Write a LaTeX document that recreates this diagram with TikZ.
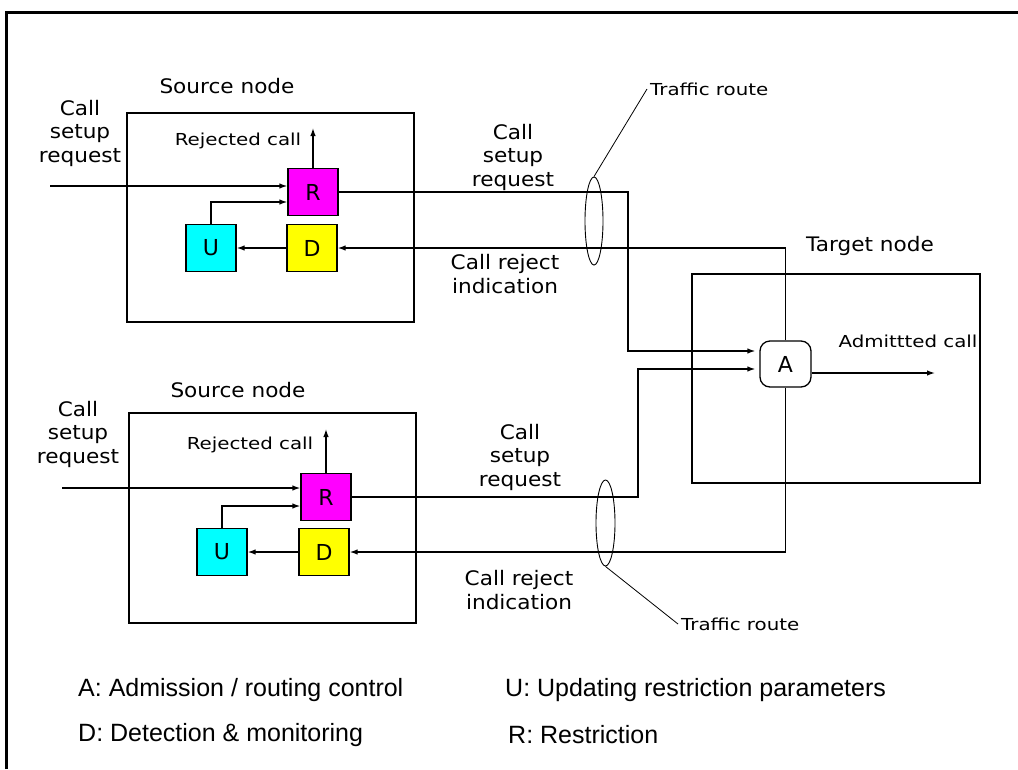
\documentclass[tikz,border=0pt]{standalone}
\usepackage{fontspec}
\setmainfont{DejaVu Sans}
\newfontfamily\legfont{Liberation Sans}
\usetikzlibrary{arrows.meta,shapes.geometric,calc}
\definecolor{rmag}{RGB}{255,0,255}
\definecolor{dyel}{RGB}{255,255,0}
\definecolor{ucya}{RGB}{0,255,255}
\newcommand\bw[1]{\scalebox{1.08}[1]{#1}}
\newcommand\sw[1]{\scalebox{1.2}[1]{#1}}
\begin{document}
\begin{tikzpicture}[x=1pt,y=-1pt,
  lbl/.style={inner sep=0pt, font=\fontsize{20}{23.5}\selectfont, align=center},
  slbl/.style={inner sep=0pt, font=\fontsize{16.5}{20}\selectfont},
  leg/.style={inner sep=0pt, anchor=west, font=\legfont\fontsize{25}{30}\selectfont},
  blk/.style={draw, line width=1.3pt, minimum width=50pt, minimum height=47pt, inner sep=0pt, font=\fontsize{22}{24}\selectfont},
  frame/.style={draw, line width=1.3pt, inner sep=0pt},
  arr/.style={line width=1.3pt, -{Latex[length=8pt,width=5.5pt]}},
  route/.style={draw, ellipse, line width=0.9pt, inner sep=0pt, minimum width=18pt, minimum height=88pt},
  leader/.style={line width=0.8pt}]
\useasboundingbox (0,0) rectangle (1018,769);
% outer frame
\draw[line width=3pt] (6,769) -- (6,12) -- (1018,12);

% node boxes
\node[frame, minimum width=287pt, minimum height=209pt] (S1) at (270.5,217.5) {};
\node[frame, minimum width=287pt, minimum height=210pt] (S2) at (272.5,518) {};
\node[frame, minimum width=288pt, minimum height=209pt] (T) at (836,378.5) {};

\node[lbl] (S1lab) at (227,86) {\bw{Source node}};
\node[lbl] (S2lab) at (238,390) {\bw{Source node}};
\node[lbl] (Tlab) at (870,246) {\bw{Target node}};

% blocks
\node[blk, fill=rmag] (R1) at (313,192) {R};
\node[blk, fill=dyel] (D1) at (312,248) {D};
\node[blk, fill=ucya] (U1) at (211,248) {U};
\node[blk, fill=rmag] (R2) at (326,497) {R};
\node[blk, fill=dyel] (D2) at (324,552) {D};
\node[blk, fill=ucya] (U2) at (222,552) {U};

\node[draw, line width=1.3pt, rounded corners=10pt, minimum width=51pt, minimum height=46pt, inner sep=0pt, font=\fontsize{22}{24}\selectfont] (A) at (785.5,364) {A};

% labels
\node[lbl] (in1lab) at (80,133) {\bw{Call}\\\bw{setup}\\\bw{request}};
\node[lbl] (in2lab) at (78,434) {\bw{Call}\\\bw{setup}\\\bw{request}};
\node[lbl] (cs1lab) at (513,157) {\bw{Call}\\\bw{setup}\\\bw{request}};
\node[lbl] (cs2lab) at (520,457) {\bw{Call}\\\bw{setup}\\\bw{request}};
\node[lbl] (cr1lab) at (505,274) {\bw{Call reject}\\\bw{indication}};
\node[lbl] (cr2lab) at (519,590) {\bw{Call reject}\\\bw{indication}};
\node[slbl] (rej1lab) at (238,141) {\sw{Rejected call}};
\node[slbl] (rej2lab) at (250,445) {\sw{Rejected call}};
\node[slbl] (admlab) at (908,341) {\sw{Admittted call}};

% inputs
\coordinate (in1) at (50,186);
\coordinate (in2) at (62,488);
\draw[arr] (in1) -- (in1 -| R1.west);
\draw[arr] (in2) -- (in2 -| R2.west);

% internal
\draw[arr] (U1.north) |- ($(R1.west)+(0,10)$);
\draw[arr] (U2.north) |- ($(R2.west)+(0,9)$);
\draw[arr] (D1.west) -- (U1.east);
\draw[arr] (D2.west) -- (U2.east);
\coordinate (rj1) at (313,128);
\coordinate (rj2) at (326,429);
\draw[arr] (R1.north) -- (rj1);
\draw[arr] (R2.north) -- (rj2);

% routes to A
\coordinate (k1) at (628,351);
\coordinate (k2) at (638,369);
\draw[arr, shorten >=4pt] (R1.east) -| (k1) -- (k1 -| A.west);
\draw[arr, shorten >=4pt] (R2.east) -| (k2) -- (k2 -| A.west);
\draw[arr] (A.north) |- (D1.east);
\draw[arr] (A.south) |- (D2.east);
\coordinate (ao) at (935,373);
\draw[arr] (ao -| A.east) -- (ao);

% traffic routes
\node[route] (tr1) at (594,221) {};
\node[route, minimum height=86pt, minimum width=19pt] (tr2) at (605.5,523) {};
\node[slbl, anchor=west, inner sep=3pt] (tr1lab) at (647,89) {\sw{Traffic route}};
\node[slbl, anchor=west, inner sep=3pt] (tr2lab) at (678,624) {\sw{Traffic route}};
\draw[leader] (tr1.north) -- (tr1lab.west);
\draw[leader] (tr2.south) -- (tr2lab.west);

% legend
\node[leg] (legA) at (78,690) {A: Admission / routing control};
\node[leg] (legU) at (505,690) {U: Updating restriction parameters};
\node[leg] (legD) at (78,735) {D: Detection \& monitoring};
\node[leg] (legR) at (508,735) {R: Restriction};
\end{tikzpicture}
\end{document}
